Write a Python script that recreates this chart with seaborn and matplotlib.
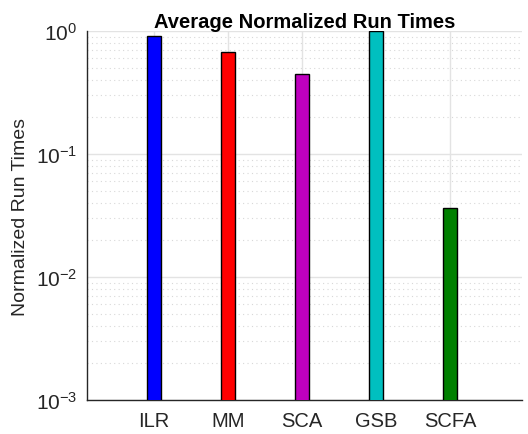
import matplotlib
matplotlib.use("Agg")
import matplotlib.pyplot as plt
import seaborn as sns
import pandas as pd
from matplotlib.ticker import LogLocator

# --- Dados ---
METHODS = ["ILR", "MM", "SCA", "GSB", "SCFA"]
RUN_TIMES = [0.916, 0.679, 0.445, 1.0, 0.0366]
COLORS = ["#0000ff", "#ff0000", "#bf00bf", "#00bfbf", "#008000"]

sns.set_style("white")
plt.rcParams["font.family"] = ["Liberation Sans", "DejaVu Sans"]
plt.rcParams["mathtext.default"] = "regular"

df = pd.DataFrame({"Method": METHODS, "Time": RUN_TIMES})

fig = plt.figure(figsize=(5.28, 4.35), dpi=100)
ax = fig.add_axes([0.165, 0.078, 0.823, 0.848])

sns.barplot(data=df, x="Method", y="Time", hue="Method", palette=COLORS,
            saturation=1, width=0.2, edgecolor="black", linewidth=1.0,
            legend=False, ax=ax, zorder=3)

ax.set_yscale("log")
ax.set_ylim(1e-3, 1)
ax.set_xlim(-0.905, 4.97)
ax.yaxis.set_major_locator(LogLocator(base=10, numticks=10))
ax.yaxis.set_minor_locator(LogLocator(base=10, subs=range(2, 10), numticks=20))

# grade estilo MATLAB
ax.set_axisbelow(True)
ax.grid(True, which="major", axis="both", color="#e3e3e3", linewidth=1.0, linestyle="-")
ax.grid(True, which="minor", axis="y", color="#d8d8d8", linewidth=0.8, linestyle=(0, (1, 3)))

for side in ["top", "right"]:
    ax.spines[side].set_visible(False)
for side in ["left", "bottom"]:
    ax.spines[side].set_color("#262626")
    ax.spines[side].set_linewidth(1.0)

ax.tick_params(axis="y", which="major", direction="in", length=5, width=0.8,
               color="#262626", labelsize=15, labelcolor="#262626", pad=7)
ax.tick_params(axis="y", which="minor", direction="in", length=3, width=0.6, color="#262626")
ax.tick_params(axis="x", which="both", length=0, labelsize=14.5, labelcolor="#262626", pad=8)

ax.set_xlabel("")
ax.set_ylabel("Normalized Run Times", fontsize=14, color="#262626", labelpad=5)
ax.set_title("Average Normalized Run Times", fontsize=14.5, fontweight="bold",
             color="black", pad=3)

fig.savefig("out.png", dpi=100)
